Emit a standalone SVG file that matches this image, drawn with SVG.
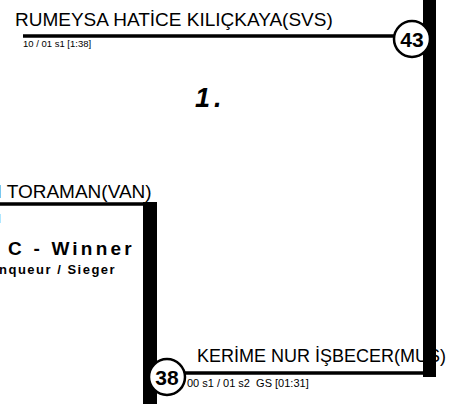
<svg xmlns="http://www.w3.org/2000/svg" width="454" height="404" viewBox="0 0 454 404">
<style>
.name{font-family:"Liberation Sans",Arial,sans-serif;font-size:19px;fill:#000}
.sub{font-family:"Liberation Sans",Arial,sans-serif;font-size:9.5px;fill:#000}
.num{font-family:"Liberation Sans",Arial,sans-serif;font-size:21px;font-weight:bold;fill:#000;text-anchor:middle}
.circ{fill:#fff;stroke:#000;stroke-width:2.5}
.thin{stroke:#000;stroke-width:3.5;fill:none}
.bar{fill:#000}
</style>
<rect width="454" height="404" fill="#fff"/>
<g id="node-top">
<text class="name" x="15" y="26">RUMEYSA HATİCE KILIÇKAYA(SVS)</text>
<text class="sub" x="23" y="47">10 / 01 s1 [1:38]</text>
</g>
<g id="node-left">
<text class="name" x="-12" y="198">N TORAMAN(VAN)</text>
<text class="sub" x="-2" y="221">]</text>
</g>
<g id="node-bottom">
<text class="name" x="197" y="362" style="font-size:18px">KERİME NUR İŞBECER(MUS)</text>
<text class="sub" x="187" y="387" style="font-size:11px" xml:space="preserve">00 s1 / 01 s2  GS [01:31]</text>
</g>
<g id="connectors">
<rect class="bar" x="423" y="0" width="13" height="377"/>
<rect class="bar" x="143" y="202" width="14" height="202"/>
<line class="thin" x1="23" y1="36" x2="400" y2="36"/>
<line class="thin" x1="0" y1="204" x2="150" y2="204"/>
<line class="thin" x1="180" y1="373" x2="430" y2="373"/>
</g>
<g id="node-43">
<circle class="circ" cx="412" cy="39" r="18"/>
<text class="num" x="412" y="47">43</text>
</g>
<g id="node-38">
<circle class="circ" cx="167" cy="377" r="18"/>
<text class="num" x="167" y="385">38</text>
</g>
<g id="title">
<text x="195" y="107" font-family="Liberation Sans,Arial,sans-serif" font-size="27" font-weight="bold" font-style="italic" letter-spacing="4">1.</text>
<text x="8" y="255" font-family="Liberation Sans,Arial,sans-serif" font-size="19" font-weight="bold" letter-spacing="3.2">C - Winner</text>
<text x="-1" y="274" font-family="Liberation Sans,Arial,sans-serif" font-size="13" font-weight="bold" letter-spacing="1.5">nqueur / Sieger</text>
</g>
</svg>
